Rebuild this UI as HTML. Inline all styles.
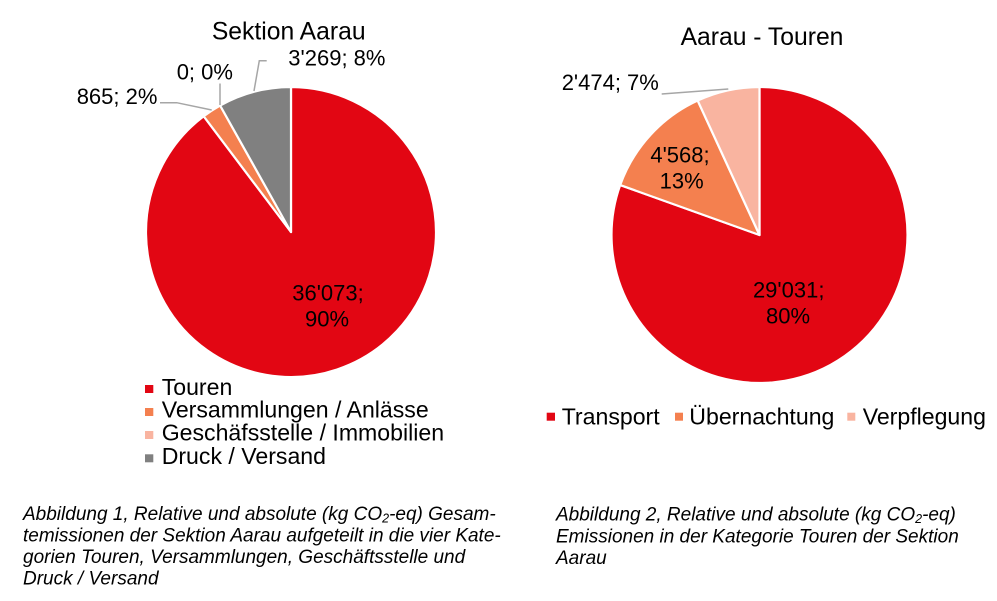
<!DOCTYPE html>
<html><head><meta charset="utf-8"><style>
html,body{margin:0;padding:0;background:#fff;}
svg{display:block;font-family:"Liberation Sans",Arial,sans-serif;}
</style></head><body>
<svg width="997" height="601" viewBox="0 0 997 601" xmlns="http://www.w3.org/2000/svg">
<rect width="997" height="601" fill="#fff"/>
<!-- Left pie -->
<text x="288.7" y="39.3" font-size="24.7" text-anchor="middle" fill="#000">Sektion Aarau</text>
<g stroke="#fff" stroke-width="2.2" stroke-linejoin="round">
<path d="M291,232 L291,87 A145,145 0 1 1 203.68,116.23 Z" fill="#E20613"/>
<path d="M291,232 L203.68,116.23 A145,145 0 0 1 220.11,105.52 Z" fill="#F4804F"/>
<path d="M291,232 L220.11,105.52 A145,145 0 0 1 291,87 Z" fill="#808080"/>
</g>
<g stroke="#A6A6A6" stroke-width="1.5" fill="none">
<polyline points="160,102.7 176.7,102.7 211.7,110"/>
<polyline points="220,83.5 220,105"/>
<polyline points="266.7,60.7 259.3,60.7 254,91"/>
</g>
<g font-size="22" fill="#000">
<text x="76.7" y="104">865; 2%</text>
<text x="176.7" y="79.3">0; 0%</text>
<text x="288.3" y="65.7">3'269; 8%</text>
<text x="328" y="300.7" text-anchor="middle">36'073;</text>
<text x="327" y="326.7" text-anchor="middle">90%</text>
</g>
<!-- Left legend -->
<rect x="145" y="385" width="8.3" height="8" fill="#E20613"/>
<rect x="145" y="408" width="8.3" height="8" fill="#F4804F"/>
<rect x="145" y="431" width="8.3" height="8" fill="#F9B4A0"/>
<rect x="145" y="454.3" width="8.3" height="8" fill="#808080"/>
<g font-size="23.1" fill="#000">
<text x="161.7" y="395">Touren</text>
<text x="161.7" y="417.7">Versammlungen / Anlässe</text>
<text x="161.7" y="440.7">Geschäfsstelle / Immobilien</text>
<text x="161.7" y="464">Druck / Versand</text>
</g>
<!-- Right pie -->
<text x="762" y="45" font-size="24.7" text-anchor="middle" fill="#000">Aarau - Touren</text>
<g stroke="#fff" stroke-width="2.2" stroke-linejoin="round">
<path d="M759.5,235 L759.5,87 A148,148 0 1 1 620.19,185.06 Z" fill="#E20613"/>
<path d="M759.5,235 L620.19,185.06 A148,148 0 0 1 697.68,100.53 Z" fill="#F4804F"/>
<path d="M759.5,235 L697.68,100.53 A148,148 0 0 1 759.5,87 Z" fill="#F9B4A0"/>
</g>
<polyline points="661.7,94 728.3,89" stroke="#A6A6A6" stroke-width="1.5" fill="none"/>
<g font-size="22" fill="#000">
<text x="561.7" y="90">2'474; 7%</text>
<text x="680" y="162.7" text-anchor="middle">4'568;</text>
<text x="681.7" y="188.3" text-anchor="middle">13%</text>
<text x="788.7" y="297.3" text-anchor="middle">29'031;</text>
<text x="788" y="323.3" text-anchor="middle">80%</text>
</g>
<!-- Right legend -->
<rect x="546.7" y="412.7" width="8.3" height="8" fill="#E20613"/>
<rect x="675" y="412.7" width="8" height="8" fill="#F4804F"/>
<rect x="847.3" y="412.7" width="8" height="8" fill="#F9B4A0"/>
<g font-size="23.1" fill="#000">
<text x="561.7" y="424.3">Transport</text>
<text x="689.3" y="424.3">Übernachtung</text>
<text x="862.7" y="424.3">Verpflegung</text>
</g>
<!-- Captions -->
<g font-size="19" font-style="italic" fill="#000">
<text x="23" y="520">Abbildung 1, Relative und absolute (kg CO<tspan font-size="12.5" dy="2.5">2</tspan><tspan dy="-2.5">-eq) Gesam-</tspan></text>
<text x="23" y="541.5">temissionen der Sektion Aarau aufgeteilt in die vier Kate-</text>
<text x="23" y="563">gorien Touren, Versammlungen, Geschäftsstelle und</text>
<text x="23" y="584.5">Druck / Versand</text>
<text x="556" y="520.7">Abbildung 2, Relative und absolute (kg CO<tspan font-size="12.5" dy="2.5">2</tspan><tspan dy="-2.5">-eq)</tspan></text>
<text x="556" y="542.3">Emissionen in der Kategorie Touren der Sektion</text>
<text x="556" y="564">Aarau</text>
</g>
</svg>
</body></html>
